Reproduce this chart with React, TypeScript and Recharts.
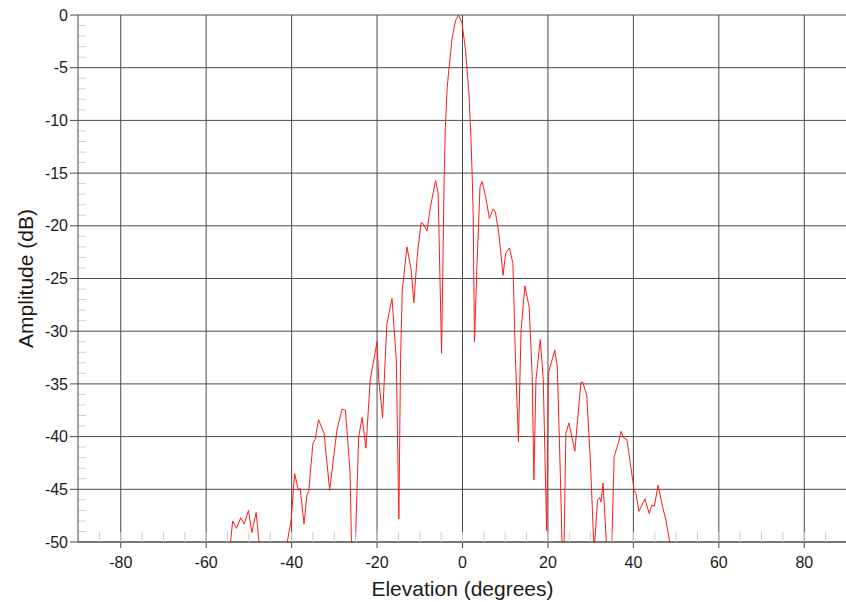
import React from "react";
import {
  LineChart,
  Line,
  XAxis,
  YAxis,
  CartesianGrid,
  ReferenceLine,
} from "recharts";

const elevationDeg: number[] = [
  -56.0, -54.4, -53.8, -52.9, -51.9, -51.1, -50.1, -49.3, -48.3, -47.5, -46.5,
  -42.0, -41.1, -40.1, -39.3, -38.4, -38.0, -37.1, -36.4, -36.0, -35.0, -34.5,
  -33.7, -32.4, -31.1, -29.4, -28.2, -27.4, -26.3, -25.9, -25.5, -25.1, -24.3,
  -23.5, -22.6, -21.6, -20.0, -19.6, -18.7, -18.1, -17.7, -16.5, -15.5, -14.9,
  -14.5, -14.1, -13.0, -12.0, -11.4, -10.6, -9.7, -9.2, -8.3, -7.5, -6.3, -5.7,
  -4.9, -4.5, -4.3, -4.0, -3.6, -3.2, -2.4, -1.6, -0.9, -0.1, 0.7, 1.5, 2.0,
  2.3, 2.5, 2.8, 3.4, 4.1, 4.6, 5.4, 6.3, 7.2, 7.7, 8.5, 9.5, 10.1, 11.0, 11.8,
  12.4, 13.1, 13.7, 14.6, 15.6, 16.3, 16.7, 17.2, 18.2, 18.9, 19.7, 20.1, 20.5,
  21.6, 22.2, 23.0, 23.4, 23.7, 24.2, 24.9, 26.3, 27.7, 28.1, 29.1, 30.0, 30.8,
  31.6, 32.1, 32.4, 32.9, 33.8, 34.9, 35.5, 36.5, 37.1, 37.7, 38.5, 39.4, 40.2,
  40.6, 41.3, 42.7, 43.7, 44.3, 44.9, 45.8, 46.8, 47.6, 48.6, 50.0,
];

const amplitudeDb: number[] = [
  -60, -50.5, -48.0, -48.7, -47.7, -48.3, -47.0, -49.1, -47.2, -50.5, -60,
  -60, -50.2, -47.9, -43.5, -45.1, -44.9, -48.3, -45.5, -45.2, -40.6, -40.3,
  -38.4, -39.7, -45.1, -39.4, -37.4, -37.5, -43.5, -52, -60, -50.5, -40.0,
  -38.2, -41.1, -34.6, -31.0, -34.6, -38.2, -32.7, -29.3, -26.9, -32.7, -47.8,
  -32.7, -26.1, -22.0, -24.2, -27.3, -22.9, -19.7, -19.8, -20.5, -18.2, -15.7, -16.9,
  -32.1, -21.3, -15.5, -10.6, -7.0, -5.2, -2.1, -0.5, 0, -0.8, -3.3, -7.4, -11.9,
  -15.7, -19.0, -31.0, -23.6, -16.3, -15.8, -17.2, -19.3, -18.4, -18.7, -20.7, -24.7, -22.6, -22.1, -23.6,
  -32.7, -40.5, -30.0, -25.7, -27.7, -34.0, -44.1, -34.6, -30.8, -34.6, -48.9, -34.0, -33.4,
  -31.8, -33.4, -45.0, -52, -52, -39.7, -38.7, -41.4, -34.9, -34.8, -36.1, -42.9, -51,
  -46.0, -45.8, -46.2, -44.4, -51, -51, -41.9, -40.6, -39.5, -40.1, -40.3, -42.9, -45.1,
  -45.4, -47.1, -45.9, -47.3, -46.5, -46.6, -44.6, -46.6, -47.9, -50.2, -60,
];

const xDomain: [number, number] = [-90, 90];
const yDomain: [number, number] = [-50, 0];
const xMajorTicks: number[] = [-80, -60, -40, -20, 0, 20, 40, 60, 80];
const xMinorTicks: number[] = [
  -85, -80, -75, -70, -65, -60, -55, -50, -45, -40, -35, -30, -25, -20, -15, -10, -5,
  0, 5, 10, 15, 20, 25, 30, 35, 40, 45, 50, 55, 60, 65, 70, 75, 80, 85,
];
const yMajorTicks: number[] = [-50, -45, -40, -35, -30, -25, -20, -15, -10, -5, 0];
const yMinorTicks: number[] = [
  -49, -48, -47, -46, -44, -43, -42, -41, -39, -38, -37, -36,
  -34, -33, -32, -31, -29, -28, -27, -26, -24, -23, -22, -21, -19,
  -18, -17, -16, -14, -13, -12, -11, -9, -8, -7, -6, -4, -3, -2, -1,
];

const data = elevationDeg.map((x, i) => ({ x, y: amplitudeDb[i] }));

const FONT = "'Liberation Sans', Arial, Helvetica, sans-serif";
const GRID = "#4a4a4a";
const MINOR = "#cfcfcf";

// plot geometry used only to convert an 8px minor-tick length to axis units
const PLOT_W = 769;
const MINOR_Y_TICK_DEG = (8 * (xDomain[1] - xDomain[0])) / PLOT_W;

const YLabel = () => {
  const cy = 278.5;
  const cx = 33;
  return (
    <text
      x={cx}
      y={cy}
      transform={`rotate(-90 ${cx} ${cy})`}
      textAnchor="middle"
      fontFamily={FONT}
      fontSize={21}
      fill="#1a1a1a"
    >
      Amplitude (dB)
    </text>
  );
};

const EmptyTick = () => <g />;

export default function App() {
  return (
    <div
      style={{
        position: "absolute",
        left: 0,
        top: 0,
        width: 846,
        height: 602,
        overflow: "hidden",
        background: "#fff",
      }}
    >
      <LineChart
        width={852}
        height={602}
        data={data}
        margin={{ top: 15, right: 5, bottom: 0, left: 0 }}
      >
        <CartesianGrid stroke={GRID} strokeWidth={1} vertical={false} />
        {xMajorTicks.map((t) => (
          <ReferenceLine key={`xg${t}`} x={t} stroke={GRID} strokeWidth={1} />
        ))}
        <XAxis
          dataKey="x"
          type="number"
          domain={xDomain}
          ticks={xMajorTicks}
          interval={0}
          allowDataOverflow
          height={60}
          stroke={GRID}
          tickSize={6}
          tickMargin={9}
          tick={{ fill: "#1a1a1a", fontSize: 16, fontFamily: FONT }}
          label={{
            value: "Elevation (degrees)",
            position: "insideBottom",
            offset: 6,
            fill: "#1a1a1a",
            fontSize: 21,
            fontFamily: FONT,
          }}
        />
        <XAxis
          xAxisId="minor"
          dataKey="x"
          type="number"
          domain={xDomain}
          ticks={xMinorTicks}
          interval={0}
          orientation="bottom"
          mirror
          height={12}
          axisLine={false}
          tick={EmptyTick}
          tickSize={10}
          tickLine={{ stroke: MINOR }}
        />
        <YAxis
          type="number"
          domain={yDomain}
          ticks={yMajorTicks}
          interval={0}
          allowDataOverflow
          width={78}
          stroke={GRID}
          tickSize={8}
          tickMargin={2}
          tick={{ fill: "#1a1a1a", fontSize: 16, fontFamily: FONT }}
          label={<YLabel />}
        />
        {yMinorTicks.map((v) => (
          <ReferenceLine
            key={`ym${v}`}
            segment={[
              { x: xDomain[0], y: v },
              { x: xDomain[0] + MINOR_Y_TICK_DEG, y: v },
            ]}
            stroke={MINOR}
            strokeWidth={1}
            ifOverflow="visible"
          />
        ))}
        <Line
          type="linear"
          dataKey="y"
          stroke="#ff1a1a"
          strokeWidth={1}
          dot={false}
          isAnimationActive={false}
        />
      </LineChart>
    </div>
  );
}
